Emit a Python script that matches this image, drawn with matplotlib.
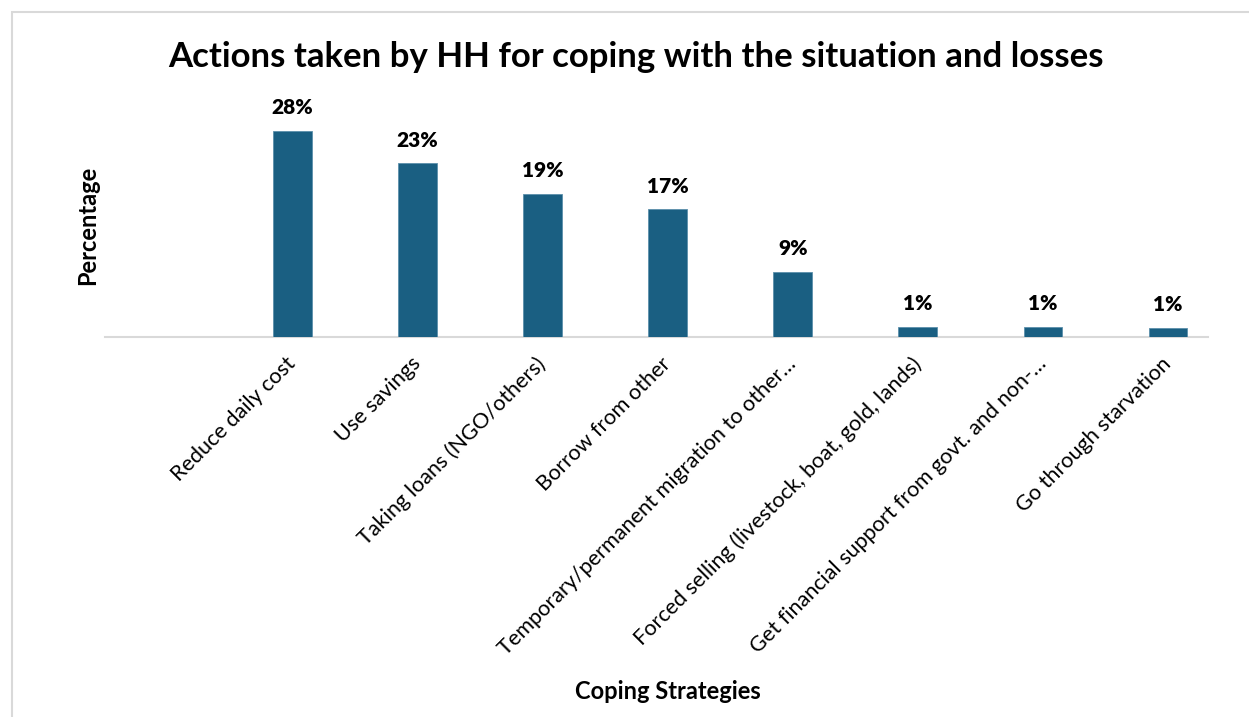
import matplotlib.pyplot as plt
from matplotlib.patches import Rectangle

plt.rcParams['font.family'] = ['Lato', 'DejaVu Sans']

# coping strategies (first slot left blank on the axis)
strategies = [
    '',
    'Reduce daily cost',
    'Use savings',
    'Taking loans (NGO/others)',
    'Borrow from other',
    'Temporary/permanent migration to other\u2026',
    'Forced selling (livestock, boat, gold, lands)',
    'Get financial support from govt. and non-\u2026',
    'Go through starvation',
]
share_pct = [0, 27.8, 23.4, 19.3, 17.2, 8.8, 1.4, 1.4, 1.2]

bar_color = '#1a5f82'

fig = plt.figure(figsize=(12.49, 7.17), dpi=100)
ax = fig.add_axes([105 / 1249, 0.530, 1103 / 1249, 0.331])

xs = list(range(len(strategies)))
bars = ax.bar(xs[1:], share_pct[1:], width=0.31, color=bar_color,
              edgecolor='#5b8fab', linewidth=0.6, zorder=3)

for b, v in zip(bars, share_pct[1:]):
    ax.annotate(f'{v:.0f}%', (b.get_x() + b.get_width() / 2, b.get_height()),
                xytext=(0, 10), textcoords='offset points',
                ha='center', va='bottom', fontsize=15, fontweight='heavy')

ax.set_xlim(-0.5, 8.32)
ax.set_ylim(0, 32)
ax.set_xticks(xs)
ax.set_xticklabels(strategies, rotation=45, ha='right', va='center',
                   rotation_mode='anchor', fontsize=15.6)
ax.tick_params(axis='x', length=0, pad=17)
ax.set_yticks([])
for side in ['top', 'right', 'left']:
    ax.spines[side].set_visible(False)
ax.spines['bottom'].set_color('#d9d9d9')
ax.spines['bottom'].set_linewidth(1.5)

fig.text(0.509, 0.920, 'Actions taken by HH for coping with the situation and losses',
         ha='center', va='center', fontsize=25, fontweight='bold')
fig.text(0.0705, 0.686, 'Percentage', rotation=90, ha='center', va='center',
         fontsize=17, fontweight='bold')
fig.text(0.535, 0.035, 'Coping Strategies', ha='center', va='center',
         fontsize=17, fontweight='bold')

# light frame around the chart area
fig.patches.append(Rectangle((12 / 1249, -0.1), 1.2, (717 - 12) / 717 + 0.1,
                             transform=fig.transFigure, fill=False,
                             edgecolor='#d9d9d9', linewidth=1.5))

fig.savefig('out.png', dpi=100)
